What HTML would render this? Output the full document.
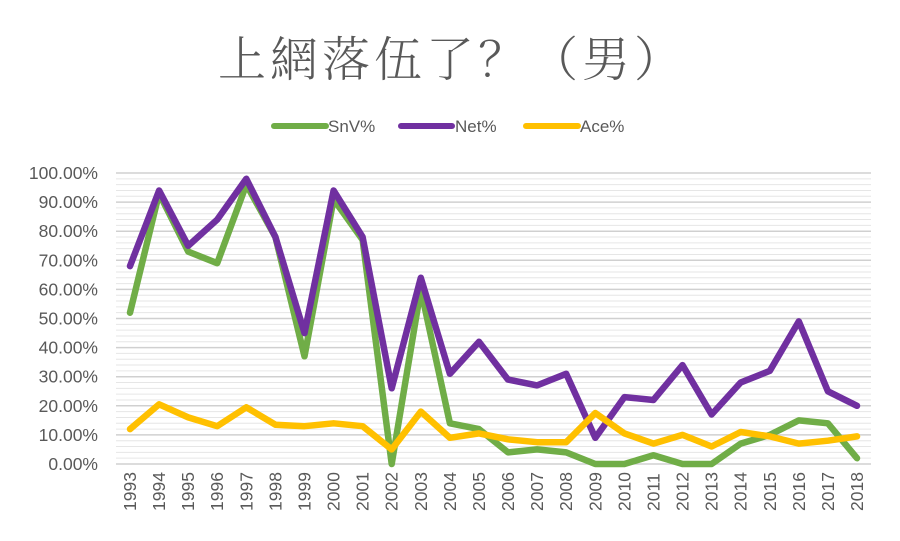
<!DOCTYPE html>
<html><head><meta charset="utf-8"><style>
html,body{margin:0;padding:0;background:#fff;}
svg{display:block;}
</style></head><body>
<svg width="900" height="541" viewBox="0 0 900 541" xmlns="http://www.w3.org/2000/svg">
<rect width="900" height="541" fill="#fff"/>
<text x="452" y="76" text-anchor="middle" font-family="Noto Serif CJK SC, Noto Sans CJK TC, serif" font-size="48" letter-spacing="4" fill="#595959" font-weight="300">上網落伍了？（男）</text>
<g font-family="Liberation Sans, sans-serif" font-size="17" fill="#595959">
<line x1="274" y1="126" x2="326" y2="126" stroke="#70AD47" stroke-width="6" stroke-linecap="round"/>
<text x="328" y="132">SnV%</text>
<line x1="401" y1="126" x2="452" y2="126" stroke="#7030A0" stroke-width="6" stroke-linecap="round"/>
<text x="455" y="132">Net%</text>
<line x1="526" y1="126" x2="578" y2="126" stroke="#FFC000" stroke-width="6" stroke-linecap="round"/>
<text x="580" y="132">Ace%</text>
</g>
<g id="grid"></g>
<g id="ylab" font-family="Liberation Sans, sans-serif" font-size="17.5" fill="#595959" text-anchor="end"></g>
<g id="xlab" font-family="Liberation Sans, sans-serif" font-size="17.5" fill="#595959"></g>
<g id="series" fill="none" stroke-width="6.5" stroke-linejoin="round" stroke-linecap="round"></g>
<script>
var ns="http://www.w3.org/2000/svg";
function el(t,a,p,txt){var e=document.createElementNS(ns,t);for(var k in a)e.setAttribute(k,a[k]);if(txt!==undefined)e.textContent=txt;p.appendChild(e);return e;}
var L=116,R=871,Y0=464,Y100=173;
function y(v){return Y0-(Y0-Y100)*v/100;}
var g=document.getElementById('grid');
for(var v=0;v<=100;v+=2){var maj=v%10==0;el('line',{x1:L,x2:R,y1:y(v),y2:y(v),stroke:maj?'#d0d0d0':'#e6e6e6','stroke-width':maj?1.5:1},g);}
var yl=document.getElementById('ylab');
for(var v=0;v<=100;v+=10){el('text',{x:98,y:y(v)+6},yl,v.toFixed(2)+'%');}
var xl=document.getElementById('xlab');
function x(i){return 130+i*29.08;}
for(var i=0;i<26;i++){var yr=1993+i;el('text',{x:0,y:0,transform:'translate('+(x(i)+6)+',511) rotate(-90)'},xl,yr);}
var snv=[52,93,73,69,96,78,37,91,77,0,60,14,12,4,5,4,0,0,3,0,0,7,10,15,14,2];
var net=[68,94,75,84,98,78,45,94,78,26,64,31,42,29,27,31,9,23,22,34,17,28,32,49,25,20];
var ace=[12,20.5,16,13,19.5,13.5,13,14,13,5,18,9,10.5,8.5,7.5,7.5,17.5,10.5,7,10,6,11,9.5,7,8,9.5];
var s=document.getElementById('series');
function pl(d,c){el('polyline',{points:d.map(function(v,i){return x(i).toFixed(1)+','+y(v).toFixed(1);}).join(' '),stroke:c},s);}
pl(snv,'#70AD47');pl(net,'#7030A0');pl(ace,'#FFC000');
</script>
</svg>
</body></html>
